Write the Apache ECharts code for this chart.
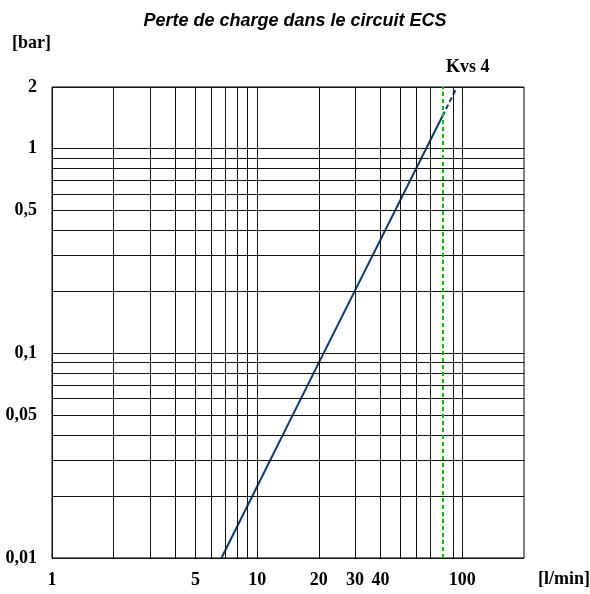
<!DOCTYPE html>
<html>
<head>
<meta charset="utf-8">
<script src="https://cdn.jsdelivr.net/npm/echarts@6/dist/echarts.min.js"></script>
<style>
html, body { margin: 0; padding: 0; background: #fff; }
#chart { width: 590px; height: 594px; }
</style>
</head>
<body>
<div id="chart"></div>
<script>
// flow [l/min] gridlines and labels
const flowGrid = [1, 2, 3, 4, 5, 6, 7, 8, 9, 10, 20, 30, 40, 50, 60, 70, 90, 100];
const flowLabels = [1, 5, 10, 20, 30, 40, 100];
// pressure drop [bar] gridlines and labels
const dropGrid = [0.01, 0.02, 0.03, 0.04, 0.05, 0.06, 0.07, 0.08, 0.09, 0.1, 0.2, 0.3, 0.4, 0.5, 0.6, 0.7, 0.8, 0.9, 1, 2];
const dropLabels = [0.01, 0.05, 0.1, 0.5, 1, 2];
// Kvs 4 curve
const curveSolid = [[6.7, 0.01], [20, 0.09], [80, 1.44]];
const curveDashed = [[80, 1.44], [94.3, 2]];
const kvsFlow = 80;

const labelFont = {
    fontFamily: 'Liberation Serif',
    fontWeight: 'bold',
    fontSize: 18,
    color: '#000'
};
const fmt = v => String(v).replace('.', ',');

const vLines = flowGrid.map(v => ({
    xAxis: v,
    label: flowLabels.includes(v)
        ? Object.assign({ show: true, position: 'start', distance: 13, formatter: fmt(v) }, labelFont)
        : { show: false }
}));
const hLines = dropGrid.map(v => ({
    yAxis: v,
    label: dropLabels.includes(v)
        ? Object.assign({ show: true, position: 'start', distance: 15, formatter: fmt(v) }, labelFont)
        : { show: false }
}));

const chart = echarts.init(document.getElementById('chart'));
chart.setOption({
    animation: false,
    title: {
        text: 'Perte de charge dans le circuit ECS',
        left: 'center',
        top: 7,
        textStyle: {
            fontFamily: 'Liberation Sans',
            fontStyle: 'italic',
            fontWeight: 'bold',
            fontSize: 18,
            color: '#000'
        }
    },
    grid: {
        left: 52, right: 66, top: 87, bottom: 36,
        show: true, borderColor: '#000', borderWidth: 1
    },
    xAxis: {
        type: 'log', logBase: 10, min: 1, max: 200,
        axisLine: { show: false }, axisTick: { show: false },
        axisLabel: { show: false }, splitLine: { show: false }
    },
    yAxis: {
        type: 'log', logBase: 10, min: 0.01, max: 2,
        axisLine: { show: false }, axisTick: { show: false },
        axisLabel: { show: false }, splitLine: { show: false }
    },
    graphic: [
        { type: 'text', left: 12, top: 34, style: Object.assign({ text: '[bar]' }, labelFont) },
        { type: 'text', left: 538, top: 570, style: Object.assign({ text: '[l/min]' }, labelFont) },
        { type: 'text', left: 446, top: 58, style: Object.assign({ text: 'Kvs 4' }, labelFont) }
    ],
    series: [
        {
            type: 'line',
            data: [],
            silent: true,
            markLine: {
                silent: true,
                symbol: 'none',
                lineStyle: { color: '#111', width: 1, type: 'solid' },
                emphasis: { disabled: true },
                data: vLines.concat(hLines)
            }
        },
        {
            type: 'line',
            data: [],
            silent: true,
            markLine: {
                silent: true,
                symbol: 'none',
                label: { show: false },
                lineStyle: { color: '#00c000', width: 2, type: [4, 3] },
                emphasis: { disabled: true },
                data: [{ xAxis: kvsFlow }]
            }
        },
        {
            name: 'Kvs 4',
            type: 'line',
            data: curveSolid,
            showSymbol: false,
            lineStyle: { color: '#0b3a6e', width: 2 }
        },
        {
            name: 'Kvs 4 (ext.)',
            type: 'line',
            data: curveDashed,
            showSymbol: false,
            lineStyle: { color: '#0b3a6e', width: 2, type: [5, 3] }
        }
    ]
});
</script>
</body>
</html>
